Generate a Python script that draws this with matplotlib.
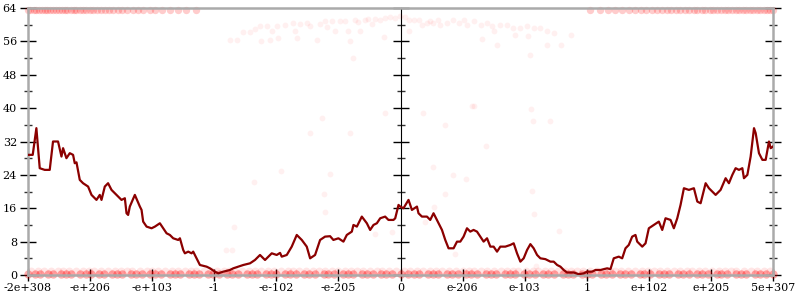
import matplotlib.pyplot as plt
import numpy as np

# position on the axis: 13 evenly spaced ticks, 10 units apart
tick_pos = [0, 10, 20, 30, 40, 50, 60, 70, 80, 90, 100, 110, 120]
tick_labels = ['-2e+308', '-e+206', '-e+103', '-1', '-e-102', '-e-205', '0',
               'e-206', 'e-103', '1', 'e+102', 'e+205', '5e+307']

# average error line (bits)
line_x = [0, 0.76, 1.35, 1.89, 2.69, 3.5, 4.03, 4.84, 5.39, 5.65, 6.19, 6.73, 7.26,
          7.53, 7.81, 8.34, 8.87, 9.68, 10.23, 11.03, 11.56, 11.84, 12.37, 12.9,
          13.45, 13.98, 14.52, 15.06, 15.6, 15.87, 16.13, 16.4, 17.21, 18.02, 18.29,
          18.55, 19.1, 19.9, 20.44, 21.24, 21.77, 22.32, 22.85, 23.39, 24.19, 24.47,
          25.0, 25.27, 25.81, 26.35, 26.61, 27.16, 27.69, 28.77, 29.31, 30.11, 30.65,
          31.45, 32.53, 33.06, 33.87, 34.68, 35.76, 36.56, 37.37, 38.18, 39.26, 40.06,
          40.6, 40.87, 41.68, 42.48, 43.29, 44.1, 44.9, 45.44, 46.24, 47.05, 47.85,
          48.66, 49.19, 50.0, 50.81, 51.35, 52.16, 52.42, 52.97, 53.77, 54.58, 55.11,
          55.65, 56.19, 56.73, 57.53, 58.06, 58.87, 59.15, 59.68, 59.95, 60.48, 61.29,
          61.84, 62.65, 62.9, 63.45, 64.26, 64.79, 65.32, 66.13, 66.68, 67.21, 67.74,
          68.55, 69.1, 69.63, 70.16, 70.71, 71.24, 71.77, 72.32, 72.85, 73.39, 73.94,
          74.47, 75.0, 75.55, 76.08, 76.89, 77.69, 78.23, 78.77, 79.31, 79.84, 80.39,
          80.92, 81.45, 82.0, 82.53, 83.34, 84.15, 84.68, 85.23, 85.76, 86.29, 86.84,
          87.9, 88.71, 89.52, 90.06, 90.87, 91.4, 92.21, 93.29, 93.82, 94.35, 95.16,
          95.71, 96.24, 96.77, 97.32, 97.85, 98.13, 98.94, 99.47, 100.0, 100.81,
          101.61, 102.16, 102.69, 103.5, 104.03, 104.58, 105.11, 105.65, 106.45,
          107.26, 107.81, 108.34, 109.15, 109.68, 110.76, 111.56, 112.37, 112.9,
          113.45, 113.98, 114.52, 115.06, 115.32, 115.87, 116.4, 116.94, 117.21,
          117.74, 118.29, 118.82, 119.35, 119.63, 120.0]
line_y = [28.8, 28.8, 35.2, 25.6, 25.2, 25.2, 32, 32, 28.4, 30.4, 28, 29.2, 28.8,
          26.8, 27, 22.8, 22, 21.2, 19.2, 18, 19.2, 18, 21.2, 22,
          20.4, 19.6, 18.8, 18, 18.4, 14.8, 14.4, 16.4, 19.2, 16.4, 15.6,
          12.8, 11.6, 11.2, 11.6, 12.4, 11.2, 10, 9.6, 8.8, 8.4, 8.8,
          6, 5.2, 5.6, 5.2, 5.6, 4, 2.4, 2, 1.6, 0.8, 0.4,
          0.8, 1.2, 1.6, 2, 2.4, 2.8, 3.6, 4.8, 3.6, 5.2, 4.8,
          5.3, 4.4, 4.8, 6.8, 9.6, 8.4, 6.8, 4, 4.8, 8.4, 9.2,
          9.3, 8.4, 8.8, 8, 9.6, 10.4, 12, 11.6, 14, 12.4, 10.8,
          12, 12.4, 13.6, 14, 13.2, 13.2, 13.6, 16.8, 16.4, 16, 18,
          15.6, 16.4, 14.8, 14, 14, 13.2, 14.8, 12.4, 10.8, 8.4, 6.4,
          6.4, 8, 8, 9.2, 11.2, 10.4, 10.8, 10.4, 9.2, 8, 8.8,
          6.8, 6.8, 5.6, 6.8, 6.8, 7.2, 7.6, 5.2, 3.2, 4, 6,
          7.4, 6.4, 4.8, 4, 3.8, 3.2, 3.2, 2.4, 2, 1.2, 0.6,
          0.6, 0.2, 0.4, 0.8, 0.8, 1.2, 1.2, 1.6, 1.4, 4, 4.4,
          4, 6.4, 7.2, 9.2, 9.6, 8, 6.8, 7.6, 11.2, 12,
          12.8, 10.8, 13.6, 13.2, 11.2, 13.6, 16.8, 20.8, 20.4,
          20.8, 17.6, 17.2, 22, 20.8, 19.2, 20.4, 23.2, 22,
          24, 25.6, 25.2, 25.6, 23.2, 24, 28.4, 35.2, 34,
          29.2, 27.6, 27.6, 32, 30.4, 30.8]

# sampled points: band along 0 bits
bottom_x = [0.0, 1.1, 2.0, 3.2, 4.1, 5.3, 6.2, 7.0, 8.4, 9.3, 10.1, 11.4, 12.2, 13.5,
            14.3, 15.2, 16.6, 17.4, 18.3, 19.7, 20.5, 21.4, 22.8, 23.6, 24.5, 25.9,
            26.7, 27.6, 29.0, 29.8, 30.7, 32.1, 32.9, 33.8, 35.2, 36.0, 36.9, 38.3,
            39.1, 40.0, 41.4, 42.2, 43.1, 44.5, 45.3, 46.2, 47.6, 48.4, 49.3, 50.7,
            51.5, 52.4, 53.8, 54.6, 55.5, 56.9, 57.7, 58.6, 60.0, 61.2, 62.1, 63.0,
            64.4, 65.2, 66.1, 67.5, 68.3, 69.2, 70.6, 71.4, 72.3, 73.7, 74.5, 75.4,
            76.8, 77.6, 78.5, 79.9, 80.7, 81.6, 83.0, 83.8, 84.7, 86.1, 86.9, 87.8,
            89.2, 90.0, 90.9, 92.3, 93.1, 94.0, 95.4, 96.2, 97.1, 98.5, 99.3, 100.2,
            101.6, 102.4, 103.3, 104.7, 105.5, 106.4, 107.8, 108.6, 109.5, 110.9,
            111.7, 112.6, 114.0, 114.8, 115.7, 117.1, 117.9, 118.8, 120.0]
bottom_level = 0.2
fringe_x = [0.5, 1.6, 2.6, 3.7, 4.8, 5.7, 6.6, 7.8, 8.9, 9.8, 10.7, 11.8, 12.9, 14.0,
            15.0, 15.9, 16.8, 18.0, 19.1, 20.0, 21.0, 22.1, 23.2, 24.2, 25.3, 26.2,
            27.1, 28.3, 29.4, 30.5, 31.5, 32.4, 33.3, 34.5, 35.6, 36.5, 37.5, 38.6,
            39.7, 40.8, 41.8, 42.7, 43.6, 44.8, 45.9, 46.8, 47.8, 48.9, 50.0, 51.1,
            52.1, 53.0, 53.9, 55.1, 56.2, 57.1, 58.1, 59.2, 60.5, 61.6, 62.6, 63.7,
            64.8, 65.7, 66.7, 67.8, 68.9, 70.0, 71.0, 71.9, 72.9, 74.0, 75.1, 76.2,
            77.2, 78.1, 79.0, 80.2, 81.3, 82.2, 83.2, 84.3, 85.4, 86.5, 87.5, 88.4,
            89.4, 90.5, 91.6, 92.7, 93.7, 94.6, 95.5, 96.7, 97.8, 98.9, 99.9, 100.8,
            101.8, 102.9, 104.0, 105.1, 106.1, 107.0, 108.0, 109.1, 110.2, 111.3,
            112.3, 113.2, 114.1, 115.3, 116.4, 117.5, 118.5, 119.5]
fringe_level = 1.0

# band along 64 bits, left and right ends
top_x = [0.0, 0.4, 0.9, 1.3, 1.8, 2.2, 2.7, 3.1, 3.6, 4.0, 4.5, 5.0, 5.4, 5.9, 6.3,
         6.9, 7.4, 7.8, 8.3, 8.9, 9.4, 10.0, 10.5, 11.1, 11.8, 12.4, 13.0, 13.7,
         14.5, 15.2, 16.0, 16.9, 17.7, 18.6, 19.6, 20.5, 21.6, 22.8, 24.1, 25.5, 27.0,
         90.6, 92.1, 93.4, 94.6, 95.7, 96.8, 97.8, 98.7, 99.6, 100.5, 101.3, 102.1,
         102.9, 103.6, 104.4, 105.1, 105.8, 106.5, 107.2, 107.8, 108.5, 109.1, 109.8,
         110.4, 111.0, 111.6, 112.2, 112.8, 113.4, 114.0, 114.6, 115.1, 115.7, 116.3,
         116.8, 117.4, 117.9, 118.5, 119.0, 119.5, 120.0]
top_level = 63.6

# scattered points in the middle (dome near the top and loose ones)
mid_x = [32.5, 33.6, 34.7, 35.8, 36.6, 37.4, 37.6, 38.5, 39.0, 39.3, 40.1, 40.3, 41.4,
         42.7, 43.0, 43.3, 43.8, 44.9, 45.4, 46.5, 47.0, 47.9, 48.1, 48.9, 49.5, 50.3,
         51.1, 51.6, 51.9, 52.7, 53.2, 53.5, 54.3, 54.8, 55.4, 55.9, 56.7, 57.3, 57.5,
         58.3, 59.1, 59.9, 60.8, 61.3, 61.3, 62.1, 62.9, 63.5, 64.3, 64.8, 65.3, 66.1,
         66.4, 67.5, 68.5, 69.4, 70.2, 70.7, 71.8, 72.9, 73.1, 73.9, 74.7, 75.0, 75.5,
         76.1, 77.2, 78.2, 78.5, 79.3, 80.4, 80.6, 81.5, 82.5, 83.6, 83.6, 84.7, 85.8,
         87.4, 80.9, 52.4,
         47.3, 45.4, 51.9, 57.5, 40.8, 36.4, 48.7, 47.7, 47.9, 33.2, 31.9, 32.8, 55.9,
         58.6, 63.6, 67.2, 71.5, 71.9, 81.1, 81.4, 84.1, 73.8, 65.3, 68.5, 70.5, 67.2,
         65.4, 81.2, 81.5, 85.5, 68.7, 81.9, 64.0]
mid_y = [56.4, 56.4, 58.2, 58.3, 59.0, 59.6, 56.0, 59.8, 56.4, 58.6, 59.8, 56.8, 60.0,
         60.4, 58.6, 56.8, 60.2, 60.4, 59.8, 56.4, 60.2, 60.8, 59.5, 60.8, 58.6, 60.8,
         61.0, 58.4, 56.0, 61.2, 60.6, 58.6, 61.2, 61.4, 60.2, 61.4, 61.2, 57.0, 61.6,
         61.8, 61.6, 62.0, 61.8, 61.2, 58.4, 61.2, 61.2, 60.0, 60.4, 61.0, 60.4, 61.2,
         60.0, 60.4, 61.2, 60.4, 61.2, 60.0, 61.0, 60.0, 56.6, 60.4, 59.6, 58.4, 55.2,
         60.0, 60.0, 59.2, 57.6, 59.2, 59.6, 57.2, 59.2, 59.2, 58.4, 55.2, 58.0, 55.2,
         57.6, 52.8, 52.0,
         37.6, 34.0, 34.0, 38.8, 25.0, 22.4, 24.2, 19.4, 15.2, 11.6, 6.0, 6.0, 9.8,
         10.4, 38.8, 36.0, 40.6, 40.6, 39.8, 37.0, 37.0, 31.0, 25.8, 23.9, 23.0, 19.4,
         16.2, 20.2, 14.6, 10.6, 5.0, 2.2, 12.8]

fig = plt.figure(figsize=(8, 3), dpi=100)
ax = fig.add_axes([28 / 800, 25 / 300, 745 / 800, 267 / 300])

pts = dict(color='red', linewidths=0, clip_on=False, zorder=2)
ax.scatter(bottom_x, np.full(len(bottom_x), bottom_level), s=36, alpha=0.32, **pts)
ax.scatter(fringe_x, np.full(len(fringe_x), fringe_level), s=32, alpha=0.1, **pts)
ax.scatter(top_x, np.full(len(top_x), top_level), s=28, alpha=0.2, **pts)
ax.scatter(mid_x, mid_y, s=18, alpha=0.06, **pts)

ax.plot(line_x, line_y, color='#8b0000', lw=1.6, zorder=3)

ax.set_xlim(0, 120)
ax.set_ylim(0, 64)
ax.set_xticks(tick_pos)
ax.set_xticklabels(tick_labels)
ax.set_yticks(np.arange(0, 65, 8))
ax.set_yticks(np.arange(4, 64, 8), minor=True)

for s in ax.spines.values():
    s.set_color('#aaaaaa')
    s.set_linewidth(1.8)

ax.tick_params(axis='both', which='major', direction='inout', length=12, width=1,
               color='black', labelsize=8, pad=2)
ax.tick_params(axis='y', which='minor', direction='inout', length=6, width=1,
               color='#333333')
ax.tick_params(axis='y', which='both', right=True)
ax.tick_params(axis='x', which='major', length=8)

# middle vertical axis at 0
mid = ax.secondary_yaxis(0.5)
mid.spines['left'].set_color('#aaaaaa')
mid.spines['left'].set_linewidth(1.8)
mid.set_yticks(np.arange(0, 65, 8))
mid.set_yticks(np.arange(4, 64, 8), minor=True)
mid.set_yticklabels([])
mid.tick_params(which='major', direction='inout', length=12, width=1, color='black')
mid.tick_params(which='minor', direction='inout', length=6, width=1, color='#333333')

for lab in ax.get_xticklabels() + ax.get_yticklabels():
    lab.set_family('DejaVu Serif')

plt.savefig('out.png')
